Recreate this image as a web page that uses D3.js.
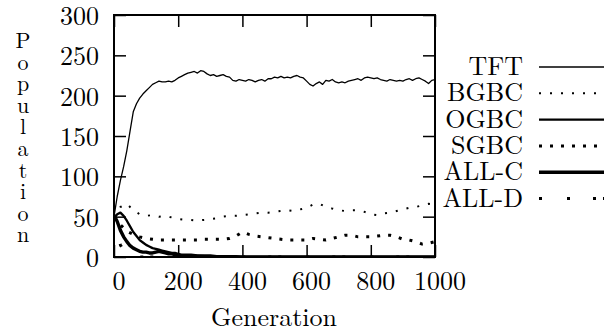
<!DOCTYPE html>
<html>
<head>
<meta charset="utf-8">
<script src="https://cdn.jsdelivr.net/npm/d3@7"></script>
<style>
  body { margin: 0; background: #fff; }
</style>
</head>
<body>
<div id="chart"></div>
<script>
// ---- data ----
const xTicks = [0, 200, 400, 600, 800, 1000];
const yTicks = [0, 50, 100, 150, 200, 250, 300];
const yLabel = "Population";
const xLabel = "Generation";
const strategies = ["TFT", "BGBC", "OGBC", "SGBC", "ALL-C", "ALL-D"];

// TFT every 10 generations
const tftGen = d3.range(0, 1001, 10);
const tftVal = [50, 75, 95, 112, 132, 156, 180, 190, 197, 202,
  206, 210, 214, 216, 218, 217, 217, 218, 217, 219,
  222, 224, 226, 228, 229, 230, 228, 231, 230, 227,
  225, 226, 224, 225, 226, 224, 223, 219, 218, 220,
  219, 218, 220, 219, 217, 219, 220, 218, 221, 221,
  223, 222, 224, 222, 223, 222, 224, 225, 223, 222,
  218, 214, 212, 215, 217, 214, 219, 218, 220, 217,
  216, 217, 216, 218, 219, 220, 221, 219, 222, 223,
  222, 221, 222, 220, 219, 218, 220, 219, 218, 219,
  218, 220, 221, 219, 221, 222, 220, 218, 215, 219, 220];

// BGBC and SGBC every 20 generations
const gen20 = d3.range(0, 1001, 20);
const bgbcVal = [50, 62, 66, 58, 53, 51, 52, 50, 51, 49,
  47, 46, 46, 45, 46, 47, 48, 50, 51, 51,
  52, 53, 54, 55, 55, 56, 57, 58, 57, 59,
  61, 65, 66, 62, 60, 58, 57, 58, 58, 56,
  53, 52, 54, 55, 57, 59, 61, 62, 64, 66, 65];
const sgbcVal = [50, 40, 32, 28, 25, 23, 22, 21, 21, 21,
  21, 21, 21, 21, 22, 22, 22, 22, 23, 26,
  31, 28, 26, 25, 24, 23, 22, 21, 21, 21,
  21, 23, 22, 21, 23, 25, 27, 27, 25, 25,
  25, 26, 27, 27, 25, 22, 21, 19, 16, 17, 19];

// decaying strategies
const ogbcGen = [0, 10, 20, 30, 40, 50, 60, 70, 80, 90, 100, 110, 120, 130, 140, 150, 160, 170, 180, 190, 200, 210, 220, 240, 260, 280, 300, 320, 340, 360, 380, 400, 500, 600, 700, 800, 900, 1000];
const ogbcVal = [48, 53, 55, 51, 45, 38, 31, 26, 21, 18, 15, 13, 11, 10, 9, 8, 7, 6, 5, 5, 4, 3, 3, 3, 2, 2, 2, 1, 1, 1, 1, 0, 0, 0, 0, 0, 0, 0];
const allcGen = [0, 5, 10, 20, 30, 40, 50, 60, 70, 80, 90, 100, 110, 120, 130, 140, 150, 160, 170, 180, 190, 200, 220, 250, 300, 400, 500, 600, 700, 800, 900, 1000];
const allcVal = [52, 48, 44, 33, 25, 19, 14, 11, 9, 7, 6, 6, 5, 5, 6, 7, 6, 5, 4, 4, 3, 2, 1, 1, 0, 0, 0, 0, 0, 0, 0, 0];
const alldGen = [0, 10, 20, 30, 40, 50, 60, 80, 100, 200, 300, 400, 500, 600, 700, 800, 900, 1000];
const alldVal = [50, 30, 15, 8, 4, 2, 1, 0, 0, 0, 0, 0, 0, 0, 0, 0, 0, 0];

// ---- layout ----
const W = 606, H = 334;
const margin = { top: 15, right: 171, bottom: 77, left: 114 };
const width = W - margin.left - margin.right;
const height = H - margin.top - margin.bottom;
const font = '"Latin Modern Roman", "Liberation Serif", serif';
const fs = 26;

const svg = d3.select("#chart").append("svg")
  .attr("width", W)
  .attr("height", H);

const g = svg.append("g")
  .attr("transform", `translate(${margin.left},${margin.top})`);

const x = d3.scaleLinear().domain([0, 1000]).range([0, width]);
const y = d3.scaleLinear().domain([0, 300]).range([height, 0]);

// line styles per strategy
const styles = {
  "TFT":   { w: 1.3, dash: null },
  "BGBC":  { w: 2, dash: "2 9" },
  "OGBC":  { w: 2.3, dash: null },
  "SGBC":  { w: 3, dash: "3 8" },
  "ALL-C": { w: 3.4, dash: null },
  "ALL-D": { w: 3, dash: "3 25 3 23 3 7" }
};

const series = [
  { name: "TFT",   gen: tftGen,  val: tftVal },
  { name: "BGBC",  gen: gen20,   val: bgbcVal },
  { name: "OGBC",  gen: ogbcGen, val: ogbcVal },
  { name: "SGBC",  gen: gen20,   val: sgbcVal },
  { name: "ALL-C", gen: allcGen, val: allcVal },
  { name: "ALL-D", gen: alldGen, val: alldVal }
];

svg.append("clipPath").attr("id", "plotclip")
  .append("rect").attr("width", width).attr("height", height);

const line = d3.line()
  .x(d => x(d[0]))
  .y(d => y(d[1]));

g.append("g").attr("clip-path", "url(#plotclip)")
  .selectAll("path")
  .data(series)
  .join("path")
  .attr("fill", "none")
  .attr("stroke", "#000")
  .attr("stroke-width", d => styles[d.name].w)
  .attr("stroke-dasharray", d => styles[d.name].dash)
  .attr("stroke-linejoin", "round")
  .attr("d", d => line(d.gen.map((v, i) => [v, d.val[i]])));

// ---- axes: inward ticks on all four sides ----
const tickLen = 12;
const axisStyle = sel => {
  sel.select(".domain").remove();
  sel.selectAll("line").attr("stroke", "#000").attr("stroke-width", 1.5);
};

g.append("g")
  .attr("transform", `translate(0,${height})`)
  .call(d3.axisBottom(x).tickValues(xTicks).tickSize(-tickLen).tickFormat(""))
  .call(axisStyle);
g.append("g")
  .call(d3.axisTop(x).tickValues(xTicks).tickSize(-tickLen).tickFormat(""))
  .call(axisStyle);
g.append("g")
  .call(d3.axisLeft(y).tickValues(yTicks).tickSize(-tickLen).tickFormat(""))
  .call(axisStyle);
g.append("g")
  .attr("transform", `translate(${width},0)`)
  .call(d3.axisRight(y).tickValues(yTicks).tickSize(-tickLen).tickFormat(""))
  .call(axisStyle);

g.append("rect")
  .attr("width", width)
  .attr("height", height)
  .attr("fill", "none")
  .attr("stroke", "#000")
  .attr("stroke-width", 2);

// tick labels
g.selectAll(".xlab")
  .data(xTicks)
  .join("text")
  .attr("class", "xlab")
  .attr("x", d => x(d) + 5)
  .attr("y", height + 33)
  .attr("text-anchor", "middle")
  .style("font-family", font)
  .style("font-size", fs + "px")
  .text(d => d);

g.selectAll(".ylab")
  .data(yTicks)
  .join("text")
  .attr("class", "ylab")
  .attr("x", -15)
  .attr("y", d => y(d) + 10)
  .attr("text-anchor", "end")
  .style("font-family", font)
  .style("font-size", fs + "px")
  .text(d => d);

// axis titles
svg.append("text")
  .attr("x", 274)
  .attr("y", 326)
  .attr("text-anchor", "middle")
  .style("font-family", font)
  .style("font-size", fs + "px")
  .text(xLabel);

// stacked letters, one text element
svg.append("text")
  .attr("text-anchor", "middle")
  .style("font-family", font)
  .style("font-size", "22px")
  .selectAll("tspan")
  .data(yLabel.split(""))
  .join("tspan")
  .attr("x", 23)
  .attr("y", (d, i) => 48 + i * 21.6)
  .text(d => d);

// ---- legend ----
const legend = svg.append("g");
const legY = i => 67 + i * 26.3;

legend.selectAll("text")
  .data(strategies)
  .join("text")
  .attr("x", 523)
  .attr("y", (d, i) => legY(i) + 8)
  .attr("text-anchor", "end")
  .style("font-family", font)
  .style("font-size", fs + "px")
  .text(d => d);

legend.selectAll("line")
  .data(strategies)
  .join("line")
  .attr("x1", 539)
  .attr("x2", 604)
  .attr("y1", (d, i) => legY(i))
  .attr("y2", (d, i) => legY(i))
  .attr("stroke", "#000")
  .attr("stroke-width", d => styles[d].w)
  .attr("stroke-dasharray", d => styles[d].dash);
</script>
</body>
</html>
